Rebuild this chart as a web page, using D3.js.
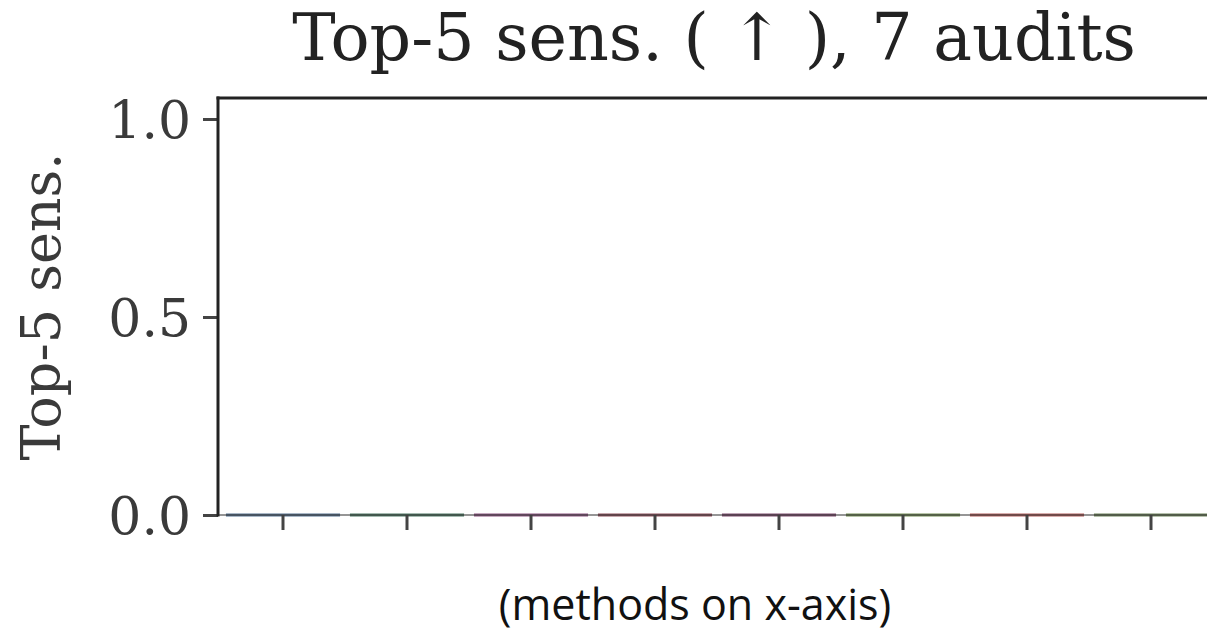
<!DOCTYPE html>
<html>
<head>
    <meta charset="utf-8">
    <title>Top-5 sens.</title>
    <script src="https://d3js.org/d3.v7.min.js"></script>
    <style>
        body{ margin:0; background:#fff; }
        svg{ display:block; }
    </style>
</head>
<body>
    <svg id="chart" width="1207" height="632"></svg>
    <script>
        /* data: every method sits at 0 */
        var methods = ["M1", "M2", "M3", "M4", "M5", "M6", "M7", "M8"];
        var sens = [0, 0, 0, 0, 0, 0, 0, 0];
        var colors = ["#3a5b7c", "#2f6149", "#7a3a6c", "#7c3442", "#6b2f58", "#5c7a3a", "#a3423f", "#566f3f"];
        var yTicks = [0.0, 0.5, 1.0];

        var W = 1207, H = 632;
        var pLeft = 218, pTop = 98, pBottom = 515;

        var svg = d3.select("#chart");

        var x = d3.scaleBand()
            .domain(methods)
            .range([221, 1213])
            .paddingInner(0.08)
            .paddingOuter(0.04);

        var y = d3.scaleLinear()
            .domain([0, 1.053])
            .range([pBottom, pTop]);

        /* bars (zero height, edge only) */
        svg.selectAll(".bar")
            .data(sens)
            .enter().append("rect")
            .attr("class", "bar")
            .attr("x", function(d, i){ return x(methods[i]); })
            .attr("y", function(d){ return y(d) - 1.5; })
            .attr("width", x.bandwidth())
            .attr("height", function(d){ return y(0) - y(d) + 3; })
            .attr("fill", function(d, i){ return colors[i]; })
            .attr("opacity", 0.85);

        /* y axis */
        var yAxis = svg.append("g")
            .attr("transform", "translate(" + pLeft + ",0)")
            .call(d3.axisLeft(y).tickValues(yTicks).tickFormat(d3.format(".1f")).tickSize(15).tickPadding(12));
        yAxis.select(".domain").remove();
        yAxis.selectAll("line").attr("stroke", "#444").attr("stroke-width", 3);
        yAxis.selectAll("text")
            .attr("font-family", "DejaVu Serif")
            .attr("font-size", 52)
            .attr("fill", "#3a3a3a")
            .attr("dy", "0.36em");

        /* x axis: ticks only, no labels */
        var xAxis = svg.append("g")
            .attr("transform", "translate(0," + pBottom + ")")
            .call(d3.axisBottom(x).tickSize(15).tickFormat(""));
        xAxis.select(".domain").remove();
        xAxis.selectAll("line").attr("stroke", "#444").attr("stroke-width", 3);

        /* spines */
        svg.append("line").attr("x1", pLeft).attr("x2", W).attr("y1", pBottom).attr("y2", pBottom)
            .attr("stroke", "#3a3a3a").attr("stroke-width", 1.5).attr("opacity", 0.7);
        svg.append("line").attr("x1", pLeft).attr("x2", pLeft).attr("y1", pTop - 1.5).attr("y2", pBottom + 1.5)
            .attr("stroke", "#222").attr("stroke-width", 3);
        svg.append("line").attr("x1", pLeft - 1.5).attr("x2", W).attr("y1", pTop).attr("y2", pTop)
            .attr("stroke", "#222").attr("stroke-width", 3);

        /* title */
        svg.append("text")
            .attr("x", 714)
            .attr("y", 60)
            .attr("text-anchor", "middle")
            .attr("font-family", "DejaVu Serif")
            .attr("font-size", 65)
            .attr("fill", "#222")
            .text("Top-5 sens. ( \u2191 ), 7 audits");

        /* y label */
        svg.append("text")
            .attr("transform", "translate(60," + ((pTop + pBottom) / 2) + ") rotate(-90)")
            .attr("text-anchor", "middle")
            .attr("font-family", "DejaVu Serif")
            .attr("font-size", 54)
            .attr("fill", "#3a3a3a")
            .text("Top-5 sens.");

        /* note below */
        svg.append("text")
            .attr("x", 695)
            .attr("y", 620)
            .attr("text-anchor", "middle")
            .attr("font-family", "Open Sans")
            .attr("font-size", 43)
            .attr("fill", "#111")
            .text("(methods on x-axis)");
    </script>
</body>
</html>
